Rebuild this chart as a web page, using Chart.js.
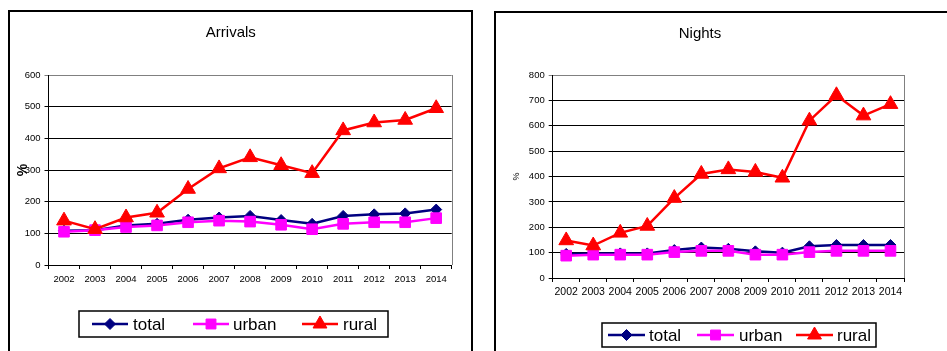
<!DOCTYPE html>
<html>
<head>
<meta charset="utf-8">
<script src="https://cdn.jsdelivr.net/npm/chart.js@4.4.1/dist/chart.umd.min.js"></script>
<style>
html,body{margin:0;padding:0;background:#fff;}
body{width:947px;height:351px;overflow:hidden;position:relative;font-family:"Liberation Sans",Arial,sans-serif;}
.panel{position:absolute;border:2px solid #000;background:#fff;box-sizing:border-box;}
#p1{left:8px;top:10px;width:465px;height:380px;}
#p2{left:494px;top:11px;width:480px;height:380px;}
canvas{position:absolute;}
#c1{left:10px;top:12px;}
#c2{left:496px;top:13px;}
</style>
</head>
<body>
<div class="panel" id="p1"></div>
<div class="panel" id="p2"></div>
<canvas id="c1" width="461" height="339"></canvas>
<canvas id="c2" width="451" height="338"></canvas>
<script>
// ---- data ----
const years = ['2002','2003','2004','2005','2006','2007','2008','2009','2010','2011','2012','2013','2014'];
const seriesNames = ['total','urban','rural'];

const arrivalsTotal = [108,110,125,130,143,150,155,142,130,155,160,163,175];
const arrivalsUrban = [105,110,120,125,135,140,137,127,113,130,135,135,148];
const arrivalsRural = [140,113,150,165,240,305,340,315,290,425,450,458,495];

const nightsTotal = [95,97,97,97,110,120,115,105,100,125,130,130,130];
const nightsUrban = [88,92,92,92,102,107,107,92,92,102,107,107,107];
const nightsRural = [148,128,178,205,315,410,428,418,395,620,720,640,685];

const arrivalsYTicks = [0,100,200,300,400,500,600];
const nightsYTicks = [0,100,200,300,400,500,600,700,800];

// ---- styles ----
const FONT = '"Liberation Sans", Arial, sans-serif';
const styles = [
  {color:'#000080', pointStyle:'rectRot', radius:5.5, legendRadius:5.5, order:3},
  {color:'#FF00FF', pointStyle:'rect', radius:7.5, legendRadius:7, order:2},
  {color:'#FF0000', pointStyle:'triangle', radius:8.5, legendRadius:8, order:1}
];

const decor = {
  id:'decor',
  afterDraw(chart, args, opts){
    const {ctx, chartArea:a} = chart;
    ctx.save();
    ctx.strokeStyle = '#808080'; ctx.lineWidth = 1;
    ctx.beginPath(); ctx.moveTo(Math.round(a.right)+0.5, a.top); ctx.lineTo(Math.round(a.right)+0.5, a.bottom); ctx.stroke();
    const L = opts.legend;
    ctx.strokeStyle = '#000'; ctx.lineWidth = 1.5;
    ctx.strokeRect(L.x, L.y, L.w, L.h);
    const cy = L.y + L.h/2;
    chart.data.datasets.forEach((ds,i)=>{
      const e = L.items[i];
      const st = styles[i];
      ctx.strokeStyle = ds.borderColor; ctx.lineWidth = 2.5;
      ctx.beginPath(); ctx.moveTo(e.x0, cy); ctx.lineTo(e.x1, cy); ctx.stroke();
      ctx.fillStyle = ds.borderColor; ctx.strokeStyle = ds.borderColor; ctx.lineWidth = 1;
      Chart.helpers.drawPoint(ctx, {pointStyle: st.pointStyle, radius: st.legendRadius, borderWidth:1, rotation:0}, (e.x0+e.x1)/2, cy);
      ctx.fillStyle = '#000';
      ctx.font = L.fontSize + 'px ' + FONT;
      ctx.textBaseline = 'middle'; ctx.textAlign = 'left';
      ctx.fillText(ds.label, e.tx, cy + 1);
    });
    ctx.restore();
  }
};

function makeChart(id, cfg){
  const datasets = cfg.series.map((vals,i)=>({
    label: seriesNames[i],
    data: vals,
    borderColor: styles[i].color,
    backgroundColor: styles[i].color,
    pointBackgroundColor: styles[i].color,
    pointBorderColor: styles[i].color,
    pointStyle: styles[i].pointStyle,
    pointRadius: styles[i].radius,
    pointBorderWidth: 1,
    borderWidth: 2.5,
    tension: 0,
    order: styles[i].order
  }));
  const ymax = cfg.yTicks[cfg.yTicks.length-1];
  return new Chart(document.getElementById(id), {
    type:'line',
    data:{labels: years, datasets},
    plugins:[decor],
    options:{
      responsive:false, animation:false, devicePixelRatio:1,
      layout:{padding:{left:0, right:cfg.padRight, top:0, bottom:0}},
      plugins:{
        legend:{display:false},
        tooltip:{enabled:false},
        title:{display:true, text:cfg.title, color:'#000', font:{family:FONT, size:15, weight:'normal'}, padding:{top:cfg.titleTop, bottom:cfg.titleBottom}},
        decor:{legend:cfg.legend}
      },
      scales:{
        x:{
          type:'category', offset:true,
          grid:{offset:true, drawOnChartArea:false, drawTicks:true, tickLength:4, color:'#000'},
          border:{color:'#000', width:1},
          ticks:{color:'#000', font:{family:FONT, size:cfg.xFont}, padding:cfg.xPad, maxRotation:0, autoSkip:false},
          afterFit(s){ s.height = cfg.xHeight; }
        },
        y:{
          min:0, max:ymax,
          afterBuildTicks(s){ s.ticks = cfg.yTicks.map(v=>({value:v})); },
          grid:{color:(c)=> (c.tick && c.tick.value===ymax) ? '#808080' : '#000', lineWidth:1, drawTicks:true, tickLength:4},
          border:{color:'#000', width:1},
          ticks:{color:'#000', font:{family:FONT, size:9.5}, padding:4},
          title:{display:true, text:'%', color:'#000', font:{family:FONT, size:cfg.pctSize, weight:cfg.pctWeight}, padding:{top:cfg.pctPad, bottom:0}},
          afterFit(s){ s.width = cfg.yWidth; }
        }
      }
    }
  });
}

makeChart('c1', {
  title:'Arrivals', series:[arrivalsTotal, arrivalsUrban, arrivalsRural], yTicks:arrivalsYTicks,
  padRight:19.3, titleTop:12, titleBottom:33, xHeight:86, yWidth:38.5, xFont:9.5, xPad:5,
  pctSize:14, pctWeight:'bold', pctPad:5,
  legend:{x:69, y:299, w:309, h:26, fontSize:17, items:[{x0:82,x1:118,tx:123},{x0:183,x1:219,tx:223},{x0:292,x1:328,tx:333}]}
});
makeChart('c2', {
  title:'Nights', series:[nightsTotal, nightsUrban, nightsRural], yTicks:nightsYTicks,
  padRight:43, titleTop:12, titleBottom:32, xHeight:73, yWidth:56.7, xFont:10.5, xPad:4,
  pctSize:9, pctWeight:'normal', pctPad:15.6,
  legend:{x:106, y:310, w:274, h:24, fontSize:17, items:[{x0:112,x1:149,tx:153},{x0:201,x1:238,tx:243},{x0:300,x1:337,tx:341}]}
});
</script>
</body>
</html>
